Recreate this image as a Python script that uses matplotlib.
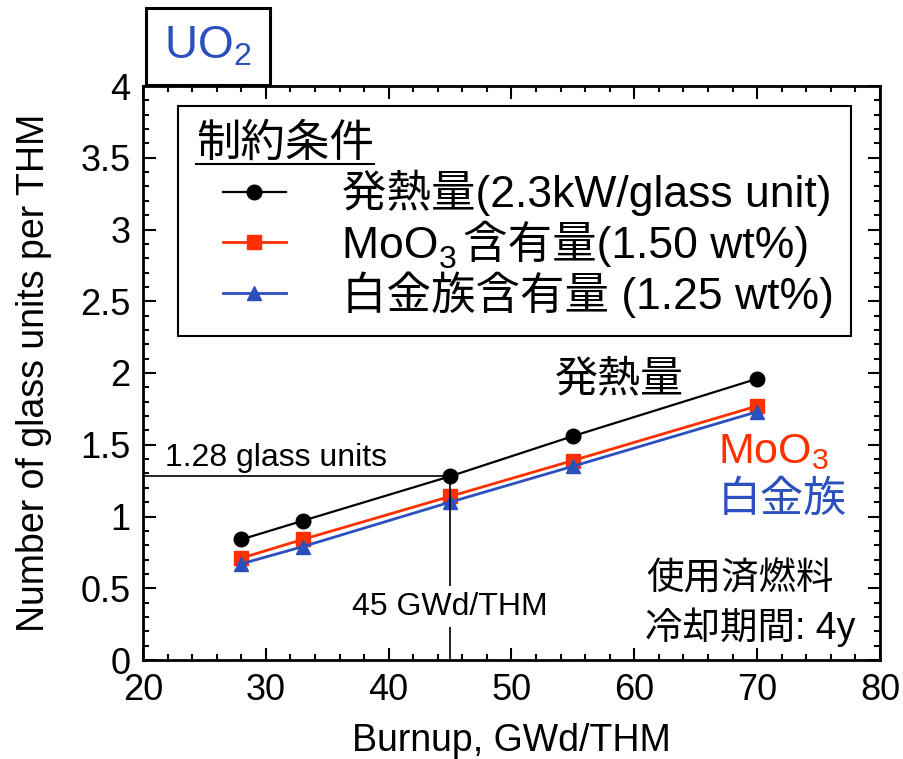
import matplotlib
matplotlib.use("Agg")
import matplotlib.pyplot as plt
from matplotlib.lines import Line2D
from matplotlib.patches import Rectangle
from matplotlib.legend_handler import HandlerLine2D
from matplotlib.ticker import MultipleLocator, FuncFormatter

plt.rcParams['font.family'] = ['Liberation Sans', 'Noto Sans CJK JP', 'DejaVu Sans']
plt.rcParams['mathtext.fontset'] = 'custom'
plt.rcParams['mathtext.rm'] = 'Liberation Sans'
plt.rcParams['mathtext.it'] = 'Liberation Sans:italic'
plt.rcParams['mathtext.bf'] = 'Liberation Sans:bold'

# Burnup (GWd/THM) and glass units per THM for each constraint
burnup = [28, 33, 45, 55, 70]
heat_units = [0.84, 0.97, 1.28, 1.56, 1.96]
moo3_units = [0.71, 0.84, 1.14, 1.39, 1.77]
pgm_units = [0.67, 0.79, 1.10, 1.35, 1.73]

ref_burnup = 45
ref_units = 1.28

legend_title = "制約条件"
series_labels = ["発熱量(2.3kW/glass unit)",
                 "MoO  含有量(1.50 wt%)",
                 "白金族含有量 (1.25 wt%)"]

RED = '#ff3000'
BLUE = '#2b50bd'

fig = plt.figure(figsize=(9.04, 7.59), dpi=100)
ax = fig.add_axes([143 / 904, 1 - 660 / 759, 737 / 904, 574 / 759])

l_heat, = ax.plot(burnup, heat_units, color='black', lw=1.6, marker='o',
                  ms=10.5, zorder=4)
l_moo3, = ax.plot(burnup, moo3_units, color=RED, lw=2.0, marker='s',
                  ms=9.5, zorder=4)
l_pgm, = ax.plot(burnup, pgm_units, color=BLUE, lw=2.0, marker='^',
                 ms=9.5, zorder=4)

# guide lines at the reference burnup
ax.plot([20, ref_burnup], [ref_units, ref_units], color='black', lw=1.2, zorder=5)
ax.plot([ref_burnup, ref_burnup], [0, ref_units], color='black', lw=1.2, zorder=5)

ax.set_xlim(20, 80)
ax.set_ylim(0, 4)
ax.xaxis.set_major_locator(MultipleLocator(10))
ax.xaxis.set_minor_locator(MultipleLocator(2))
ax.yaxis.set_major_locator(MultipleLocator(0.5))
ax.yaxis.set_minor_locator(MultipleLocator(0.1))
ax.yaxis.set_major_formatter(FuncFormatter(lambda v, p: f"{v:g}"))

ax.tick_params(which='both', direction='in', top=True, right=True,
               labelsize=26, width=1.5)
ax.tick_params(which='major', length=9, pad=9)
ax.tick_params(which='minor', length=4.5)
for s in ax.spines.values():
    s.set_linewidth(2.0)

ax.set_xlabel("Burnup, GWd/THM", fontsize=27, labelpad=11)
ax.set_ylabel("Number of glass units per THM", fontsize=27, labelpad=20)

# annotations
ax.text(21.8, 1.41, "1.28 glass units", fontsize=23, ha='left', va='center')
ax.text(ref_burnup, 0.37, "45 GWd/THM", fontsize=23, ha='center', va='center',
        zorder=6, bbox=dict(facecolor='white', edgecolor='none', pad=4))
ax.text(58.8, 1.95, "発熱量", fontsize=31, ha='center', va='center')
ax.text(66.8, 1.45, "MoO$_3$", fontsize=31, color=RED, ha='left', va='center')
ax.text(66.8, 1.11, "白金族", fontsize=31, color=BLUE, ha='left', va='center')
ax.text(61.0, 0.56, "使用済燃料", fontsize=27, ha='left', va='center')
ax.text(60.9, 0.23, "冷却期間: 4y", fontsize=27, ha='left', va='center')

# legend
handler = HandlerLine2D(xpad=0.61)
leg = ax.legend([l_heat, l_moo3, l_pgm], series_labels, title=legend_title,
                loc='upper left', bbox_to_anchor=(0.0475, 0.965),
                borderaxespad=0, alignment='left', fontsize=32,
                title_fontsize=32, handlelength=2.02, handletextpad=1.26,
                borderpad=0.4, labelspacing=0.1, fancybox=False,
                edgecolor='black', framealpha=1,
                handler_map={Line2D: handler})
leg.get_frame().set_linewidth(1.5)

# sample label box above the axes
fig.patches.append(Rectangle((146 / 904, 1 - 85 / 759), 124 / 904, 77 / 759,
                             transform=fig.transFigure, fill=False,
                             edgecolor='black', lw=2.2))
fig.text(208 / 904, 1 - 47 / 759, "UO$_2$", fontsize=33, color=BLUE,
         ha='center', va='center')

# underline the legend title and add the MoO3 subscript
fig.canvas.draw()
renderer = fig.canvas.get_renderer()
inv = fig.transFigure.inverted()

tb = leg.get_title().get_window_extent(renderer)
y_ul = tb.y0 + 1
p0 = inv.transform((tb.x0, y_ul))
p1 = inv.transform((tb.x1, y_ul))
fig.add_artist(Line2D([p0[0], p1[0]], [p0[1], p1[1]], color='black', lw=1.5,
                      transform=fig.transFigure))

txt = leg.get_texts()[1]
prop = txt.get_fontproperties()
bb = txt.get_window_extent(renderer)
w_moo, _, _ = renderer.get_text_width_height_descent("MoO", prop, ismath=False)
_, _, d_full = renderer.get_text_width_height_descent(txt.get_text(), prop,
                                                      ismath=False)
fs_px = prop.get_size_in_points() * fig.dpi / 72
base_y = bb.y0 + d_full
pos = inv.transform((bb.x0 + w_moo + 1, base_y - 0.22 * fs_px))
fig.text(pos[0], pos[1], "3", fontsize=prop.get_size_in_points() * 0.72,
         ha='left', va='baseline')

fig.savefig("out.png", dpi=100)
